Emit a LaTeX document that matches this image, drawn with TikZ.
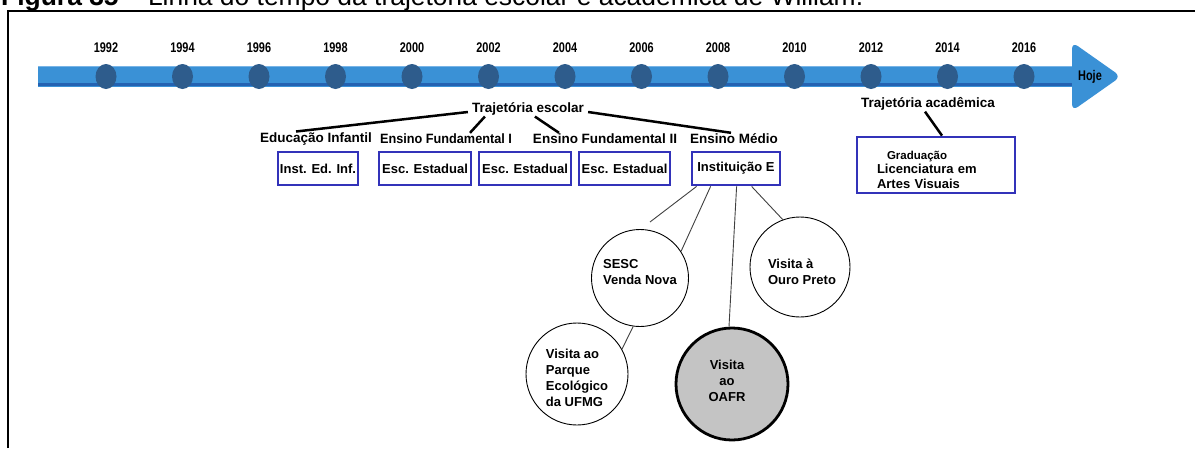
\documentclass[tikz,border=0pt]{standalone}
\usepackage{fontspec}
\usepackage{graphicx}
\setmainfont{Liberation Sans}
\usetikzlibrary{calc}

\definecolor{barblue}{RGB}{58,145,214}
\definecolor{bardark}{RGB}{36,98,178}
\definecolor{barlight}{RGB}{120,180,230}
\definecolor{dotblue}{RGB}{46,92,140}
\definecolor{boxblue}{RGB}{50,50,185}
\definecolor{oafrgray}{RGB}{196,196,196}

\newcommand{\narrowtxt}[1]{\scalebox{0.78}[1]{#1}}

\begin{document}
\begin{tikzpicture}[x=1pt,y=-1pt,
  yearlbl/.style={inner sep=0, font=\fontsize{14}{14}\selectfont\bfseries},
  cattxt/.style={inner sep=1, font=\fontsize{13.5}{16}\selectfont\bfseries},
  ebox/.style={draw=boxblue, line width=2.8, minimum height=33, inner sep=2,
               font=\fontsize{13}{16}\selectfont\bfseries},
  visit/.style={circle, draw=black, line width=0.9, inner sep=0},
  visittxt/.style={inner sep=0, align=left, font=\fontsize{13}{16}\selectfont\bfseries},
  branch/.style={line width=2.5, black},
  thinlink/.style={line width=0.9, black!75}
]
\useasboundingbox (0,0) rectangle (1195,448);

% caption, set partly above the page edge
\node[anchor=base west, inner sep=0] (caption) at (1,5.5)
  {\resizebox{862pt}{!}{\textbf{Figura 35} – Linha do tempo da trajetória escolar e acadêmica de William.}};

% frame
\draw[line width=1.3] (8,448) -- (8,11) -- (1195,11);

% timeline bar and arrow head
\fill[barblue] (38,66) rectangle (1082,87);
\fill[barlight] (38,66) rectangle (1082,67.2);
\fill[bardark] (38,83.2) rectangle (1082,85.6);
\fill[barblue, rounded corners=7] (1072,42) -- (1121,76.5) -- (1072,111) -- cycle;

% years and their marks
\foreach \yr [count=\i from 0] in {1992,1994,...,2016}{
  \fill[dotblue] ({106+76.5*\i},76.5) ellipse [x radius=10.5, y radius=12.5];
  \node[yearlbl] (y\yr) at ({106+76.5*\i},48) {\narrowtxt{\yr}};
}
\node[yearlbl] (hoje) at (1090,77) {\narrowtxt{Hoje}};

% school path
\node[cattxt] (te) at (528,109) {Trajetória escolar};
\node[cattxt] (ei)  at (316,139) {Educação Infantil};
\node[cattxt] (ef1) at (446,139) {\scalebox{0.94}[1]{Ensino Fundamental I}};
\node[cattxt] (ef2) at (605,139) {Ensino Fundamental II};
\node[cattxt] (em)  at (734,139) {Ensino Médio};

\draw[branch] ([shift={(-3,3)}]te.west) -- ([xshift=-20]ei.north);
\draw[branch] ([xshift=14]te.south west) -- ([xshift=24]ef1.north);
\draw[branch] ([xshift=64]te.south west) -- ([xshift=-46]ef2.north);
\draw[branch] ([shift={(3,3)}]te.east) -- ([xshift=-3]em.north);

\node[ebox, minimum width=78] (inf)  at (318,168.5) {Inst. Ed. Inf.};
\node[ebox, minimum width=92] (esc1) at (425,168.5) {Esc. Estadual};
\node[ebox, minimum width=92] (esc2) at (525,168.5) {Esc. Estadual};
\node[ebox, minimum width=91] (esc3) at (624.5,168.5) {Esc. Estadual};
\node[ebox, minimum width=88] (inst) at (736,168.5) {Instituição E};

% academic path
\node[cattxt] (ta) at (928,104) {Trajetória acadêmica};
\node[draw=boxblue, line width=2.8, minimum width=158, minimum height=56,
      inner sep=0] (grad) at (936,165) {};
\node[inner sep=0, text width=118, align=left,
      font=\fontsize{13}{14.5}\selectfont\bfseries] (gradtxt) at ([yshift=-4.5]grad.center)
  {\hspace*{10pt}{\fontsize{11.5}{14}\selectfont Graduação}\\Licenciatura em\\Artes Visuais};
\draw[branch] ([xshift=-3]ta.south) -- ([xshift=6]grad.north);

% visits
\node[visit, minimum size=97] (sesc) at (640,278) {};
\node[visittxt] (sesctxt) at ([yshift=6]sesc.center) {SESC\\Venda Nova};
\node[visit, minimum size=100] (ouro) at (800,267) {};
\node[visittxt] (ourotxt) at ([shift={(2,5)}]ouro.center) {Visita à\\Ouro Preto};
\node[visit, minimum size=102] (parque) at (577,374) {};
\node[visittxt] (parquetxt) at ([yshift=-3.5]parque.center) {Visita ao\\Parque\\Ecológico\\da UFMG};
\node[visit, minimum size=112, fill=oafrgray, line width=2.8] (oafr) at (732,384) {};
\node[visittxt, align=center] (oafrtxt) at ([shift={(-5,-3)}]oafr.center) {Visita\\ao\\OAFR};

\coordinate (sescgap) at (650,222);
\draw[thinlink] ([xshift=6]inst.south west) -- (sescgap);
\draw[thinlink] ([xshift=20]inst.south west) -- (sesc.33);
\draw[thinlink] ([xshift=46]inst.south west) -- (oafr.93);
\draw[thinlink] ([xshift=61]inst.south west) -- (ouro.110);
\draw[thinlink] (sesc.262) -- (parque.29);
\end{tikzpicture}
\end{document}
